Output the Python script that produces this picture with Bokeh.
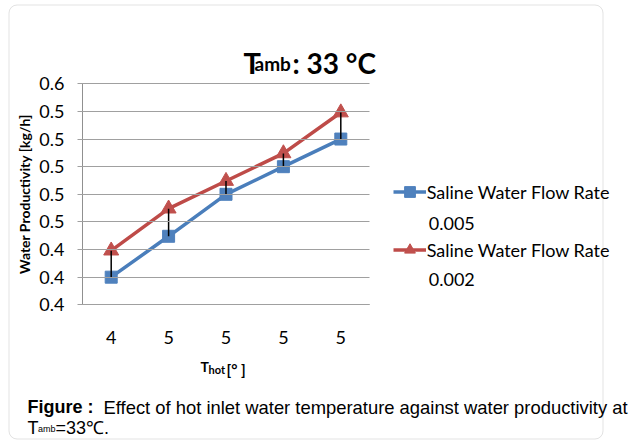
from bokeh.plotting import figure
from bokeh.models import FixedTicker, Range1d, Legend, LegendItem, Label, BoxAnnotation
from bokeh.embed import file_html
from bokeh.resources import INLINE

# ---- data ----
x_labels = ["4", "5", "5", "5", "5"]
flow_005 = [0.425, 0.462, 0.500, 0.525, 0.550]
flow_002 = [0.449, 0.487, 0.512, 0.537, 0.574]
y_tick_values = [0.4, 0.425, 0.45, 0.475, 0.5, 0.525, 0.55, 0.575, 0.6]
y_tick_labels = ["0.4", "0.4", "0.4", "0.5", "0.5", "0.5", "0.5", "0.5", "0.6"]
series_names = ["Saline Water Flow Rate", "Saline Water Flow Rate"]
series_rates = ["0.005", "0.002"]
y_title = "Water Productivity [kg/h]"

x_pos = list(range(1, len(x_labels) + 1))

# ---- layout (page pixels) ----
W, H = 630, 441
PL, PR, PT, PB = 82, 369, 83.3, 304.3     # plot area
x0, x1 = 0.5, len(x_labels) + 0.5
y0, y1 = y_tick_values[0], y_tick_values[-1]
dx = (x1 - x0) / (PR - PL)
dy = (y1 - y0) / (PB - PT)

p = figure(width=W, height=H, output_backend="svg", toolbar_location=None,
           x_range=Range1d(x0 - PL * dx, x1 + (W - PR) * dx),
           y_range=Range1d(y0 - (H - PB) * dy, y1 + PT * dy),
           min_border=0)
p.outline_line_color = None
p.background_fill_color = "white"
p.border_fill_color = "white"
p.xgrid.visible = False
p.ygrid.visible = False

# axes fixed at the plot-area edges
xa = p.xaxis[0]
xa.fixed_location = y0
xa.bounds = (x0, x1)
xa.ticker = FixedTicker(ticks=x_pos)
xa.major_label_overrides = {i: s for i, s in zip(x_pos, x_labels)}
xa.major_tick_line_color = None
xa.minor_tick_line_color = None
xa.axis_line_color = "#909090"
xa.major_label_standoff = 20
xa.major_label_text_font = "Lato"
xa.major_label_text_font_size = "18px"
xa.major_label_text_color = "black"

ya = p.yaxis[0]
ya.fixed_location = x0
ya.bounds = (y0, y1)
ya.ticker = FixedTicker(ticks=y_tick_values)
ya.major_label_overrides = {v: s for v, s in zip(y_tick_values, y_tick_labels)}
ya.major_tick_in = PR - PL          # horizontal grid lines
ya.major_tick_out = 5
ya.major_tick_line_color = "#A0A0A0"
ya.minor_tick_line_color = None
ya.axis_line_color = "#909090"
ya.major_label_standoff = 13
ya.major_label_text_font = "Lato"
ya.major_label_text_font_size = "18px"
ya.major_label_text_color = "black"
ya.axis_label = y_title
ya.axis_label_standoff = 3
ya.axis_label_text_font = "Lato"
ya.axis_label_text_font_style = "bold"
ya.axis_label_text_font_size = "14px"
ya.axis_label_text_color = "black"

# card border
card = BoxAnnotation(left=8.5, right=602.5, top=H - 4.5, bottom=H - 438.5,
                     left_units="screen", right_units="screen",
                     top_units="screen", bottom_units="screen",
                     fill_color=None, line_color="#A0A0A0", line_width=1,
                     border_radius=8, level="underlay")
p.add_layout(card)

# series
BLUE, RED = "#4F81BD", "#C0504D"
l1 = p.line(x_pos, flow_005, line_color="#4A7EBB", line_width=3.5)
s1 = p.scatter(x_pos, flow_005, marker="square", size=12, fill_color=BLUE, line_color=BLUE)
l2 = p.line(x_pos, flow_002, line_color="#BE4B48", line_width=3.5)
s2 = p.scatter(x_pos, flow_002, marker="triangle", size=15, fill_color=RED, line_color=RED)
# high-low lines
p.segment(x0=x_pos, y0=flow_005, x1=x_pos, y1=flow_002, line_color="black", line_width=1.5)

legend = Legend(items=[LegendItem(label=series_names[0], renderers=[l1, s1]),
                       LegendItem(label=series_names[1], renderers=[l2, s2])],
                location=(392.7, H - 263), glyph_width=33, glyph_height=27, label_standoff=1,
                padding=0, margin=0, spacing=31, border_line_color=None,
                background_fill_alpha=0, label_text_font="Lato",
                label_text_font_size="18px", label_text_color="black")
p.add_layout(legend, "center")


def lab(text, px, py, size, bold=False, font="Lato"):
    p.add_layout(Label(x=px, y=H - py, x_units="screen", y_units="screen",
                       text=text, text_font=font, text_font_size=f"{size}px",
                       text_font_style="bold" if bold else "normal",
                       text_baseline="alphabetic", text_align="left", text_color="black"))


# second line of each legend entry
lab(series_rates[0], 428.3, 223.3, 18)
lab(series_rates[1], 428.3, 279.3, 18)

# chart title  T_amb: 33 °C
lab("T", 243, 62, 29, bold=True)
lab("amb", 254, 62.5, 19, bold=True)
lab(": 33 °C", 292, 62, 28, bold=True)

# x axis title  T_hot[°  ]
lab("T", 200, 366, 14, bold=True)
lab("hot", 208, 369, 11, bold=True)
lab("[°  ]", 226, 368, 15, bold=True)

# caption
lab("Figure :", 27, 406.5, 18, bold=True, font="Liberation Sans")
lab("Effect of hot inlet water temperature against water productivity at", 103, 406.5, 18.4,
    font="Liberation Sans")
lab("T", 27, 427, 18, font="Liberation Sans")
lab("amb", 37.5, 428, 9, font="Liberation Sans")
lab("=33℃.", 55, 427, 18, font="Liberation Sans")

open("out.html", "w").write(file_html(p, INLINE))
